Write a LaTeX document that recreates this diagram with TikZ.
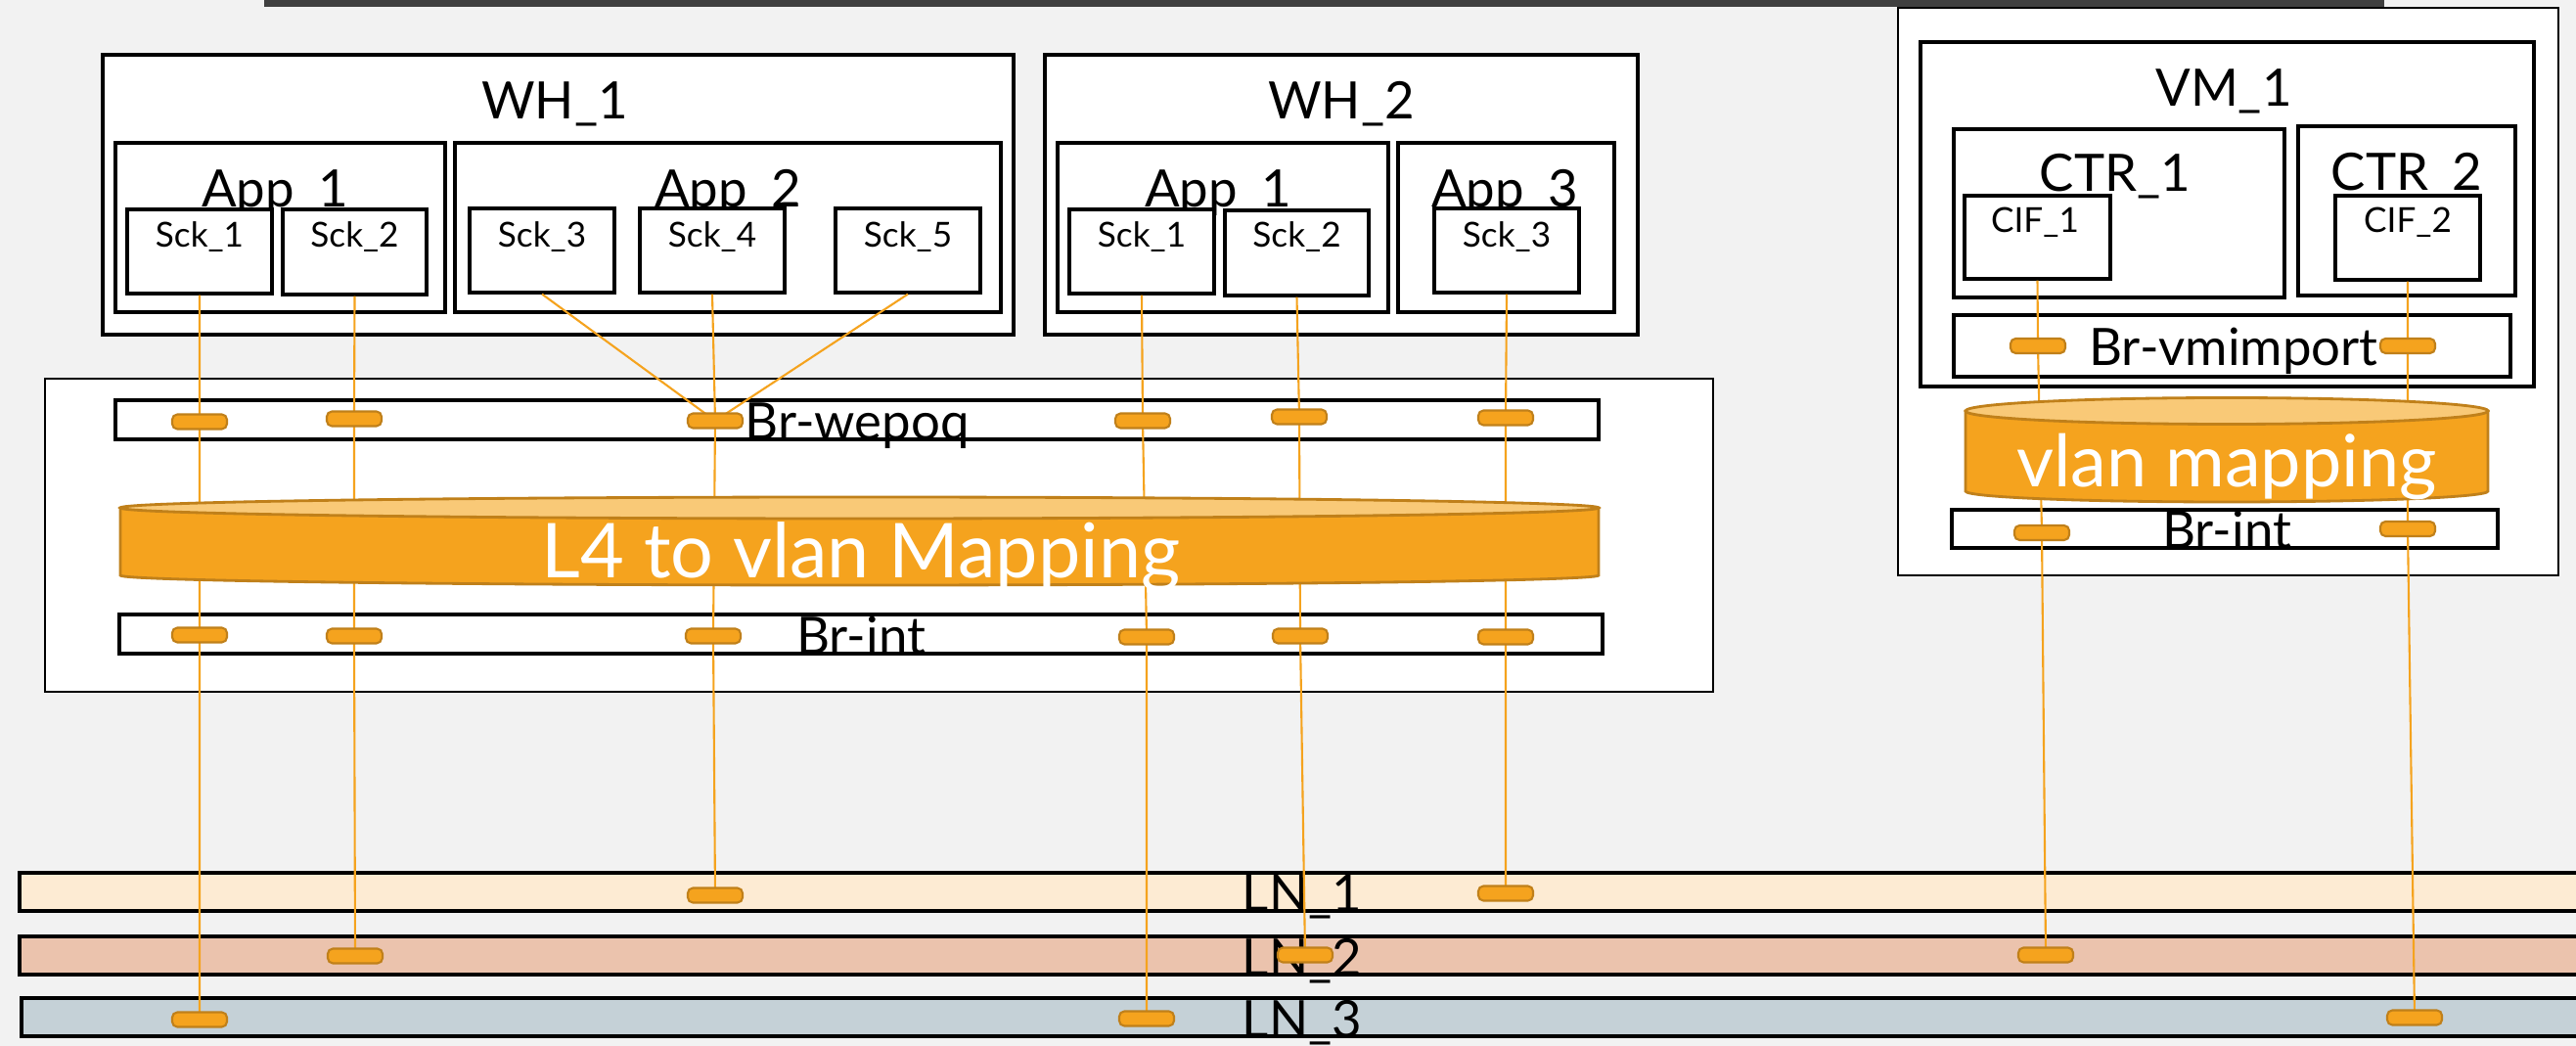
\documentclass[tikz,border=0pt]{standalone}
\usepackage{fontspec}
\setmainfont{Lato}
\usetikzlibrary{calc,positioning,fit}

\definecolor{bggray}{HTML}{F2F2F2}
\definecolor{framegray}{HTML}{404040}
\definecolor{portorange}{HTML}{F5A31E}
\definecolor{portedge}{HTML}{C0801A}
\definecolor{maptop}{HTML}{F9C977}
\definecolor{lnone}{HTML}{FDEBD3}
\definecolor{lntwo}{HTML}{EBC3AD}
\definecolor{lnthree}{HTML}{C5D1D7}

\pgfdeclarelayer{front}
\pgfsetlayers{main,front}

\tikzset{
  hostbox/.style={draw=black, fill=white, line width=0.7pt, inner sep=0pt},
  inbox/.style={draw=black, fill=white, line width=0.9pt, inner sep=0pt},
  brbar/.style={draw=black, fill=white, line width=1pt, inner sep=0pt},
  lnbar/.style={draw=black, line width=1.1pt, inner sep=0pt},
  bigtxt/.style={font=\fontsize{15}{18}\selectfont, anchor=base, inner sep=0pt},
  smalltxt/.style={font=\fontsize{10}{12}\selectfont, anchor=base, inner sep=0pt},
  maptxt/.style={text=white, anchor=base, inner sep=0pt},
  portbox/.style={draw=portedge, fill=portorange, rounded corners=1.5pt, line width=0.6pt,
    minimum width=0.56cm, minimum height=0.15cm, inner sep=0pt},
  wire/.style={draw=portorange, line width=0.6pt},
  mapbody/.style={fill=portorange, draw=portedge, line width=0.8pt},
  maplid/.style={fill=maptop, draw=portedge, line width=0.8pt}
}

\begin{document}
\begin{tikzpicture}
\useasboundingbox (0,0) rectangle (26.33,-10.69);
\clip (0,0) rectangle (26.33,-10.69);
\fill[bggray] (0,0) rectangle (26.33,-10.69);

% WH_1
\node[inbox, fit={(1.05,-0.56) (10.36,-3.42)}] (wh1) {};
\node[bigtxt] (wh1lbl) at (5.67,-1.22) {WH\_1};
\node[inbox, fit={(1.18,-1.46) (4.55,-3.19)}] (wh1app1) {};
\node[bigtxt] (wh1app1lbl) at (2.81,-2.12) {App\_1};
\node[inbox, fit={(4.65,-1.46) (10.23,-3.19)}] (wh1app2) {};
\node[bigtxt] (wh1app2lbl) at (7.44,-2.12) {App\_2};
\node[inbox, fit={(1.30,-2.14) (2.78,-3.00)}] (wh1sck1) {};
\node[inbox, fit={(2.89,-2.14) (4.36,-3.01)}] (wh1sck2) {};
\node[inbox, fit={(4.80,-2.13) (6.28,-2.99)}] (wh1sck3) {};
\node[inbox, fit={(6.54,-2.13) (8.02,-2.99)}] (wh1sck4) {};
\node[inbox, fit={(8.54,-2.13) (10.02,-2.99)}] (wh1sck5) {};
\foreach \n in {1,...,5}
  \node[smalltxt] (wh1sck\n lbl) at (wh1sck\n.center |- 0,-2.53) {Sck\_\n};

% WH_2
\node[inbox, fit={(10.68,-0.56) (16.74,-3.42)}] (wh2) {};
\node[bigtxt] (wh2lbl) at (13.71,-1.22) {WH\_2};
\node[inbox, fit={(10.81,-1.46) (14.19,-3.19)}] (wh2app1) {};
\node[bigtxt] (wh2app1lbl) at (12.45,-2.12) {App\_1};
\node[inbox, fit={(14.29,-1.46) (16.50,-3.19)}] (wh2app3) {};
\node[bigtxt] (wh2app3lbl) at (15.38,-2.12) {App\_3};
\node[inbox, fit={(10.93,-2.14) (12.41,-3.00)}] (wh2sck1) {};
\node[inbox, fit={(12.52,-2.15) (13.99,-3.02)}] (wh2sck2) {};
\node[inbox, fit={(14.66,-2.13) (16.14,-2.99)}] (wh2sck3) {};
\foreach \n in {1,2,3}
  \node[smalltxt] (wh2sck\n lbl) at (wh2sck\n.center |- 0,-2.53) {Sck\_\n};

% VM side
\node[hostbox, fit={(19.40,-0.08) (26.15,-5.88)}] (vmhost) {};
\node[inbox, fit={(19.63,-0.43) (25.90,-3.95)}] (vm1) {};
\node[bigtxt] (vm1lbl) at (22.73,-1.09) {VM\_1};
\node[inbox, fit={(19.97,-1.32) (23.35,-3.04)}] (ctr1) {};
\node[bigtxt] (ctr1lbl) at (21.62,-1.96) {CTR\_1};
\node[inbox, fit={(23.49,-1.29) (25.71,-3.02)}] (ctr2) {};
\node[bigtxt] (ctr2lbl) at (24.60,-1.95) {CTR\_2};
\node[inbox, fit={(20.08,-2.00) (21.57,-2.85)}] (cif1) {};
\node[smalltxt] (cif1lbl) at (20.80,-2.38) {CIF\_1};
\node[inbox, fit={(23.87,-2.00) (25.35,-2.86)}] (cif2) {};
\node[smalltxt] (cif2lbl) at (24.61,-2.38) {CIF\_2};
\node[brbar, fit={(19.97,-3.22) (25.66,-3.85)}] (brvm) {};
\node[bigtxt] (brvmlbl) at (22.83,-3.74) {Br-vmimport};
\node[brbar, fit={(19.95,-5.21) (25.53,-5.60)}] (vmbrint) {};
\node[bigtxt] (vmbrintlbl) at (22.76,-5.61) {Br-int};

% frame at the top
\draw[line width=0.07cm, draw=framegray] (2.73,0.5) rectangle (24.33,-0.035);

% WH host bridges
\node[hostbox, fit={(0.46,-3.87) (17.51,-7.07)}] (whhost) {};
\node[brbar, fit={(1.18,-4.09) (16.34,-4.49)}] (brwepoq) {};
\node[bigtxt] (brwepoqlbl) at (8.76,-4.50) {Br-wepoq};
\node[brbar, fit={(1.22,-6.28) (16.38,-6.68)}] (brint) {};
\node[bigtxt] (brintlbl) at (8.80,-6.69) {Br-int};

% LN bars
\node[lnbar, fill=lnone, fit={(0.20,-8.92) (27,-9.31)}] (ln1) {};
\node[lnbar, fill=lntwo, fit={(0.20,-9.57) (27,-9.96)}] (ln2) {};
\node[lnbar, fill=lnthree, fit={(0.22,-10.20) (27,-10.59)}] (ln3) {};
\node[bigtxt] (ln1lbl) at (13.31,-9.32) {LN\_1};
\node[bigtxt] (ln2lbl) at (13.31,-9.97) {LN\_2};
\node[bigtxt] (ln3lbl) at (13.31,-10.60) {LN\_3};

% ports
\begin{pgfonlayer}{front}
\node[portbox] (wp1) at (2.04,-4.31) {};
\node[portbox] (wp2) at (3.62,-4.28) {};
\node[portbox] (wp3) at (7.31,-4.30) {};
\node[portbox] (wp4) at (11.68,-4.30) {};
\node[portbox] (wp5) at (13.28,-4.26) {};
\node[portbox] (wp6) at (15.39,-4.27) {};
\node[portbox] (ip1) at (2.04,-6.49) {};
\node[portbox] (ip2) at (3.62,-6.50) {};
\node[portbox] (ip3) at (7.29,-6.50) {};
\node[portbox] (ip4) at (11.72,-6.51) {};
\node[portbox] (ip5) at (13.29,-6.50) {};
\node[portbox] (ip6) at (15.39,-6.51) {};
\node[portbox] (vp1) at (20.83,-3.535) {};
\node[portbox] (vp2) at (24.61,-3.535) {};
\node[portbox] (vq1) at (20.87,-5.445) {};
\node[portbox] (vq2) at (24.61,-5.405) {};
\node[portbox] (lp1) at (2.04,-10.42) {};
\node[portbox] (lp2) at (3.63,-9.77) {};
\node[portbox] (lp3) at (7.31,-9.15) {};
\node[portbox] (lp4) at (11.72,-10.41) {};
\node[portbox] (lp5) at (13.34,-9.76) {};
\node[portbox] (lp6) at (15.39,-9.13) {};
\node[portbox] (lp7) at (20.91,-9.76) {};
\node[portbox] (lp8) at (24.68,-10.40) {};
\end{pgfonlayer}

% wires
\draw[wire] (wh1sck1.south) -- (wp1.center) -- (ip1.center) -- (lp1.center);
\draw[wire] (wh1sck2.south) -- (wp2.center) -- (ip2.center) -- (lp2.center);
\draw[wire] (wh1sck3.south) -- (wp3.center);
\draw[wire] (wh1sck5.south) -- (wp3.center);
\draw[wire] (wh1sck4.south) -- (wp3.center) -- (ip3.center) -- (lp3.center);
\draw[wire] (wh2sck1.south) -- (wp4.center) -- (ip4.center) -- (lp4.center);
\draw[wire] (wh2sck2.south) -- (wp5.center) -- (ip5.center) -- (lp5.center);
\draw[wire] (wh2sck3.south) -- (wp6.center) -- (ip6.center) -- (lp6.center);
\draw[wire] (cif1.south) -- (vp1.center) -- (vq1.center) -- (lp7.center);
\draw[wire] (cif2.south) -- (vp2.center) -- (vq2.center) -- (lp8.center);

% mapping cylinders
\filldraw[mapbody] (1.23,-5.19) -- (1.23,-5.88) arc[start angle=180, end angle=360, x radius=7.555, y radius=0.10] -- (16.34,-5.19) -- cycle;
\filldraw[maplid] (8.785,-5.19) ellipse [x radius=7.555, y radius=0.11];
\node[maptxt, font=\fontsize{22}{26}\selectfont] (l4map) at (8.80,-5.91) {L4 to vlan Mapping};

\filldraw[mapbody] (20.09,-4.20) -- (20.09,-5.02) arc[start angle=180, end angle=360, x radius=2.67, y radius=0.11] -- (25.43,-4.20) -- cycle;
\filldraw[maplid] (22.76,-4.20) ellipse [x radius=2.67, y radius=0.135];
\node[maptxt, font=\fontsize{21}{25}\selectfont] (vlanmap) at (22.76,-4.98) {vlan mapping};
\end{tikzpicture}
\end{document}
